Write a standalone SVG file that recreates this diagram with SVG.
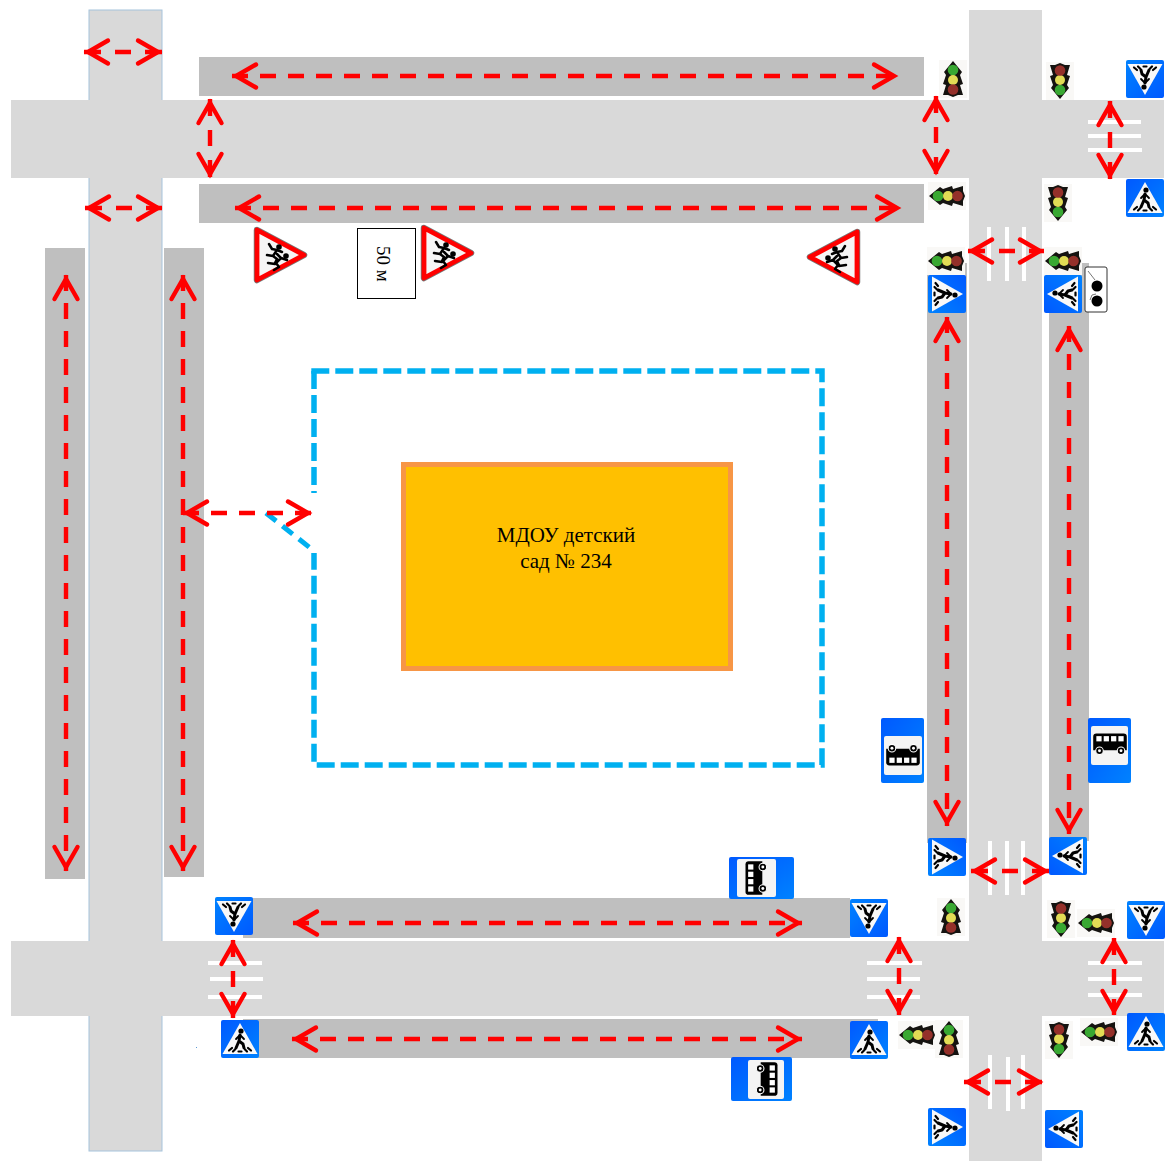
<svg xmlns="http://www.w3.org/2000/svg" width="1166" height="1161" viewBox="0 0 1166 1161">
<style>
.road{fill:#d9d9d9}
.walk{fill:#bfbfbf}
.zebra{stroke:#fff;stroke-width:4;fill:none}
.arrow{stroke:#f00;stroke-width:4.400;fill:none;stroke-dasharray:16 12;marker-start:url(#head);marker-end:url(#head)}
.short{stroke-dasharray:17 14 16 14 17}
.fence{stroke:#00b0f0;stroke-width:5.500;fill:none;stroke-dasharray:18 6}
.fig{stroke:#000;fill:none;stroke-linecap:round;stroke-linejoin:round}
.wh{fill:#f4f4f4}
</style>
<defs>
<linearGradient id="blue" x1="0" y1="0" x2="1" y2="1"><stop offset="0" stop-color="#0059ff"/><stop offset="1" stop-color="#0082ff"/></linearGradient>
<marker id="head" markerUnits="userSpaceOnUse" orient="auto-start-reverse" markerWidth="30" markerHeight="30" refX="27" refY="15" viewBox="0 0 30 30" overflow="visible"><path d="M3 3.500L23 15L3 26.500" fill="none" stroke="#f00" stroke-width="4.400" stroke-linecap="round"/></marker>
<g id="ped">
<rect x="-19" y="-19" width="38" height="38" rx="2" fill="url(#blue)"/>
<path d="M0 -16L17.500 15H-17.500Z" fill="#f8f8f8"/>
<circle cx="1" cy="-8" r="2.600"/>
<path class="fig" stroke-width="3" d="M0 -4L-1 2L3 5L4 9M-1 2L-4 9"/>
<path class="fig" stroke-width="1.800" d="M-4 0L0 -4L4 0"/>
<path class="fig" stroke-width="2.200" d="M-11 11.500L-8 9M-7 12.500L-5 10.500M11 11.500L8 9M7 12.500L5 10.500M-1.500 12.500H1.500"/>
</g>
<g id="light">
<rect x="-14" y="-19" width="28" height="38" fill="#f9f8f6"/>
<path d="M0 -18L9 -7L7 -4L10 5L7 6L10 16H-10L-7 6L-10 5L-7 -4L-9 -7Z" fill="#151310"/>
<path d="M-5 16H5L0 18Z" fill="#151310"/>
<circle cx="0" cy="-9" r="5.300" fill="#39a832"/>
<circle cx="0" cy="1" r="5" fill="#e2dc55"/>
<circle cx="0" cy="10.500" r="5.300" fill="#94302a"/>
</g>
<g id="kids">
<path d="M-23 -25L24 0L-23 25Z" fill="#f5f5f5" stroke="#777" stroke-width="6.500" stroke-linejoin="round"/>
<path d="M-23 -25L24 0L-23 25Z" fill="#f5f5f5" stroke="#f00" stroke-width="4.800" stroke-linejoin="round"/>
<circle cx="-1" cy="-8" r="2.800"/><circle cx="6" cy="1" r="2.800"/>
<path class="fig" stroke-width="2.500" d="M-11 -11L-8 -6L-3 -5L-7 1L-13 0M-7 1L-3 4L-5 8M-3 -5L2 -3"/>
<path class="fig" stroke-width="2.500" d="M-3 -1L1 3L7 5M1 3L-5 9L-12 8M-4 8L-1 12L-6 15"/>
</g>
<g id="bus">
<path d="M-16 -7Q-16 -10 -13 -10H13Q16 -10 16 -7V6H-16Z" fill="#000"/>
<rect x="-13" y="-7.500" width="5" height="5" fill="#fff"/><rect x="-6" y="-7.500" width="5" height="5" fill="#fff"/><rect x="1" y="-7.500" width="5" height="5" fill="#fff"/><rect x="8" y="-7.500" width="5" height="5" fill="#fff"/>
<circle cx="-10" cy="6.500" r="3.600" fill="#000" stroke="#fff" stroke-width="1"/><circle cx="-10" cy="6.500" r="1.400" fill="#fff"/>
<circle cx="10.500" cy="6.500" r="3.600" fill="#000" stroke="#fff" stroke-width="1"/><circle cx="10.500" cy="6.500" r="1.400" fill="#fff"/>
</g>
</defs>
<rect width="1166" height="1161" fill="#fff"/>
<g id="roads">
<rect class="road" x="89" y="10" width="73" height="1141" stroke="#a6c3dc" stroke-width="1"/>
<rect class="road" x="969" y="10" width="73" height="1151"/>
<rect class="road" x="11" y="100" width="1153" height="78"/>
<rect class="road" x="11" y="941" width="1153" height="75"/>
</g>
<g id="sidewalks">
<rect class="walk" x="199" y="57" width="725" height="39"/>
<rect class="walk" x="199" y="184" width="725" height="39"/>
<rect class="walk" x="45" y="248" width="40" height="631"/>
<rect class="walk" x="164" y="248" width="40" height="629"/>
<rect class="walk" x="927" y="263" width="40" height="580"/>
<rect class="walk" x="1049" y="263" width="40" height="578"/>
<rect class="walk" x="243" y="898" width="607" height="40"/>
<rect class="walk" x="243" y="1019" width="635" height="39"/>
</g>
<g id="crossings">
<path class="zebra" d="M1088 122H1141M1088 136H1141M1088 150H1142"/>
<path class="zebra" d="M989 227V281M1007 227V281M1024 227V281"/>
<path class="zebra" d="M990 841V895M1007 841V895M1023 841V895"/>
<path class="zebra" d="M1088 963H1142M1088 979H1142M1088 995H1142"/>
<path class="zebra" d="M867 963H922M867 979H920M867 997H920"/>
<path class="zebra" d="M208 963H262M210 979H263M208 997H262"/>
<path class="zebra" d="M990 1055V1109M1008 1057V1111M1023 1055V1109"/>
</g>
<g id="school">
<path class="fence" d="M311.300 371H822V765H314V553"/>
<path class="fence" d="M314 371V493"/>
<path class="fence" style="stroke-dasharray:13 8;stroke-width:5" d="M266 513L314 551"/>
</g>
<g id="building">
<rect x="403.500" y="464.500" width="327" height="204" fill="#ffc000" stroke="#f79646" stroke-width="5"/>
<text x="566" y="542" font-family="'Liberation Serif',serif" font-size="21" text-anchor="middle">МДОУ детский</text>
<text x="566" y="568" font-family="'Liberation Serif',serif" font-size="21" text-anchor="middle">сад № 234</text>
</g>
<g id="connectors">
<path class="arrow short" d="M84 52H162"/>
<path class="arrow" d="M232 76H898"/>
<path class="arrow short" d="M210 99V178"/>
<path class="arrow short" d="M936 96V175"/>
<path class="arrow short" d="M1110 101V179"/>
<path class="arrow short" d="M85 208H162"/>
<path class="arrow" d="M235 208H901"/>
<path class="arrow short" d="M968 251H1044"/>
<path class="arrow" d="M66 275V871"/>
<path class="arrow" d="M183 275V871"/>
<path class="arrow" d="M947 317V826"/>
<path class="arrow" d="M1069 326V834"/>
<path class="arrow" d="M183 513H312"/>
<path class="arrow short" d="M971 871H1049"/>
<path class="arrow" d="M293 923H802"/>
<path class="arrow short" d="M233 940V1018"/>
<path class="arrow short" d="M899 937V1015"/>
<path class="arrow short" d="M1114 938V1015"/>
<path class="arrow" d="M292 1039H802"/>
<path class="arrow short" d="M964 1082H1043"/>
</g>
<g id="signs-pedestrian">
<use href="#ped" transform="translate(1145 79) rotate(180)"/>
<use href="#ped" transform="translate(869 918) rotate(180)"/>
<use href="#ped" transform="translate(234 916) rotate(180)"/>
<use href="#ped" transform="translate(1146 920) rotate(180)"/>
<use href="#ped" transform="translate(1145 198)"/>
<use href="#ped" transform="translate(240 1039)"/>
<use href="#ped" transform="translate(869 1040)"/>
<use href="#ped" transform="translate(1146 1032)"/>
<use href="#ped" transform="translate(947 294) rotate(90)"/>
<use href="#ped" transform="translate(947 857) rotate(90)"/>
<use href="#ped" transform="translate(947 1127) rotate(90)"/>
<use href="#ped" transform="translate(1063 294) rotate(-90)"/>
<use href="#ped" transform="translate(1068 856) rotate(-90)"/>
<use href="#ped" transform="translate(1064 1129) rotate(-90)"/>
</g>
<g id="traffic-lights">
<use href="#light" transform="translate(953 79)"/>
<use href="#light" transform="translate(951 917)"/>
<use href="#light" transform="translate(949 1039)"/>
<use href="#light" transform="translate(1060 81) rotate(180)"/>
<use href="#light" transform="translate(1058 203) rotate(180)"/>
<use href="#light" transform="translate(1061 919) rotate(180)"/>
<use href="#light" transform="translate(1059 1040) rotate(180)"/>
<use href="#light" transform="translate(947 196) rotate(-90)"/>
<use href="#light" transform="translate(946 261) rotate(-90)"/>
<use href="#light" transform="translate(1063 261) rotate(-90)"/>
<use href="#light" transform="translate(1096 923) rotate(-90)"/>
<use href="#light" transform="translate(917 1035) rotate(-90)"/>
<use href="#light" transform="translate(1099 1032) rotate(-90)"/>
</g>
<g id="signs-children">
<use href="#kids" transform="translate(280 255)"/>
<use href="#kids" transform="translate(447 253)"/>
<use href="#kids" transform="translate(834 257) scale(-1 1)"/>
</g>
<g id="sign-50m">
<rect x="357.500" y="228.500" width="58" height="70" fill="#fff" stroke="#000" stroke-width="1"/>
<text transform="translate(377 264) rotate(90)" font-family="'Liberation Serif',serif" font-size="19" text-anchor="middle">50 м</text>
</g>
<g id="sign-cars">
<rect x="1085" y="267" width="22" height="45" rx="2" fill="#fff" stroke="#333" stroke-width="1"/>
<path d="M1088 271L1095 280M1090 300L1092 295L1096 294" stroke="#777" fill="none"/>
<circle cx="1097" cy="286" r="5.500"/><circle cx="1097" cy="301" r="5.500"/>
</g>
<g id="signs-bus">
<rect x="881" y="718" width="43" height="65" rx="2" fill="url(#blue)"/><rect class="wh" x="884" y="736" width="38" height="39" rx="2"/>
<use href="#bus" transform="translate(903 755) rotate(180) scale(1.05)"/>
<rect x="1088" y="718" width="43" height="65" rx="2" fill="url(#blue)"/><rect class="wh" x="1091" y="726" width="37" height="39" rx="2"/>
<use href="#bus" transform="translate(1110 744) scale(1.05)"/>
<rect x="729" y="857" width="65" height="42" rx="2" fill="url(#blue)"/><rect class="wh" x="737" y="859" width="39" height="38" rx="2"/>
<use href="#bus" transform="translate(756 878) rotate(-90) scale(1.05)"/>
<rect x="731" y="1057" width="61" height="44" rx="2" fill="url(#blue)"/><rect class="wh" x="748" y="1060" width="36" height="39" rx="2"/>
<use href="#bus" transform="translate(767 1079) rotate(90) scale(1.05)"/>
</g>
<rect id="speck" x="196" y="1047" width="1" height="1" fill="#5b9bd5"/>
</svg>
